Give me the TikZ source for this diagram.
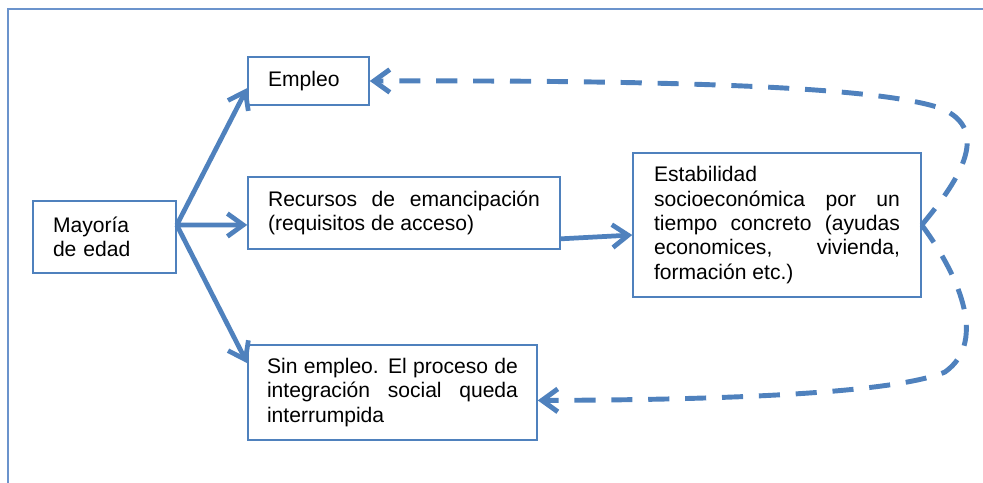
\documentclass[tikz,border=0pt]{standalone}
\usepackage{fontspec}
\setmainfont{Liberation Sans}
\usetikzlibrary{arrows.meta}
\definecolor{flowblue}{HTML}{4F81BD}
\definecolor{frameblue}{HTML}{6B93CC}
\begin{document}
\begin{tikzpicture}[x=0.02cm,y=-0.02cm]
\tikzstyle{box}=[draw=flowblue,line width=0.9pt,inner xsep=0pt,inner ysep=0pt,font=\fontsize{12}{13.9}\selectfont]
\tikzstyle{arrow}=[flowblue,line width=2.7pt,-{Straight Barb[length=9pt,width=13pt]}]
\tikzstyle{back}=[arrow,line width=2.8pt,dash pattern=on 12pt off 9pt]
\useasboundingbox (0,0) rectangle (983,483);
\clip (0,0) rectangle (983,483);
\draw[frameblue,line width=0.9pt] (8,9) rectangle (1000,500);
% boxes
\node[box,align=left,text width=2.06cm,minimum width=2.86cm,minimum height=1.44cm] (mayoria) at (104.5,237) {Mayoría\\de edad};
\node[box,align=left,text width=1.62cm,minimum width=2.42cm,minimum height=0.96cm] (empleo) at (308.5,81) {Empleo};
\node[box,align=justify,text width=5.44cm,minimum width=6.24cm,minimum height=1.44cm] (recursos) at (404,213) {Recursos de emancipación\linebreak (requisitos de acceso)};
\node[box,align=justify,text width=4.92cm,minimum width=5.76cm,minimum height=2.88cm] (estab) at (777,225) {Estabilidad\\ socioeconómica por un\linebreak tiempo concreto (ayudas\linebreak economices, vivienda,\linebreak formación etc.)};
\node[box,align=justify,text width=5.02cm,minimum width=5.78cm,minimum height=1.9cm] (sinempleo) at (392.5,392.5) {Sin empleo. El proceso de\linebreak integración social queda\linebreak interrumpida};
\coordinate (hub) at ([yshift=6.8pt]mayoria.east);
% arrows
\foreach \target/\shift in {empleo/-4pt,recursos/-6.8pt,sinempleo/16.7pt}
	\draw[arrow] (hub) -- ([yshift=\shift]\target.west);
\draw[arrow] ([yshift=-14.7pt]recursos.east) -- ([yshift=-5.7pt]estab.west);
\draw[back] (estab.east) .. controls (955,185) and (995,130) .. (940,108) .. controls (880,88) and (700,80) .. (empleo.east);
\draw[back] (estab.east) .. controls (955,270) and (990,340) .. (945,372) .. controls (890,395) and (700,400) .. ([yshift=-4.5pt]sinempleo.east);
\end{tikzpicture}
\end{document}
